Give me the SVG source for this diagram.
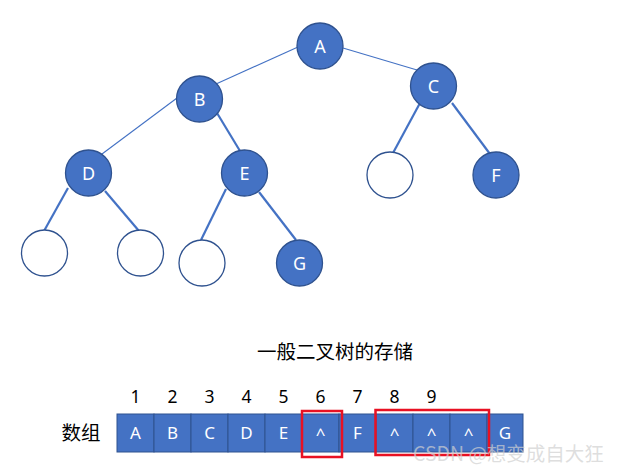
<svg xmlns="http://www.w3.org/2000/svg" width="622" height="470" viewBox="0 0 622 470">
<style>
.n{fill:#4472C4;stroke:#2F528F;stroke-width:1.3}
.e{fill:#ffffff;stroke:#2F528F;stroke-width:1.3}
.t{fill:#ffffff;font-family:"Noto Sans","Liberation Sans",sans-serif;font-size:18px;text-anchor:middle}
.thin{stroke:#4472C4;stroke-width:1.1;fill:none}
.thick{stroke:#4472C4;stroke-width:2.2;fill:none}
.cell{fill:#4472C4;stroke:#2F528F;stroke-width:1}
.ct{fill:#ffffff;font-family:"Noto Sans","Liberation Sans",sans-serif;font-size:17px;text-anchor:middle}
.num{fill:#000;font-family:"Noto Sans","Liberation Sans",sans-serif;font-size:17.5px;text-anchor:middle}
.cjk{fill:#000;font-family:"Noto Sans CJK SC","Noto Sans",sans-serif;font-size:19.5px;text-anchor:middle}
.red{fill:none;stroke:#E81123;stroke-width:2.5}
.wm{font-family:"Noto Sans CJK SC","Noto Sans",sans-serif;font-size:19.5px;fill:#d0d0d0;fill-opacity:0.7}
</style>
<rect width="622" height="470" fill="#ffffff"/>
<g id="connectors">
<line class="thin" x1="298" y1="47" x2="216" y2="84"/>
<line class="thin" x1="343" y1="48" x2="417" y2="70"/>
<line class="thin" x1="177" y1="98" x2="102" y2="154"/>
<line class="thick" x1="217" y1="113" x2="240" y2="151"/>
<line class="thick" x1="420" y1="103" x2="393" y2="153"/>
<line class="thick" x1="452" y1="103" x2="490" y2="154"/>
<line class="thick" x1="68" y1="188" x2="44" y2="231"/>
<line class="thick" x1="105" y1="191" x2="139" y2="231"/>
<line class="thick" x1="226" y1="189" x2="201" y2="240"/>
<line class="thick" x1="259" y1="192" x2="296" y2="240"/>
</g>
<g id="nA"><circle class="n" cx="320" cy="46" r="23"/><text class="t" x="320" y="52.5">A</text></g>
<g id="nB"><circle class="n" cx="199.5" cy="99" r="23"/><text class="t" x="199.5" y="105.5">B</text></g>
<g id="nC"><circle class="n" cx="433.5" cy="86" r="23"/><text class="t" x="433.5" y="92.5">C</text></g>
<g id="nD"><circle class="n" cx="88.5" cy="173" r="23"/><text class="t" x="88.5" y="179.5">D</text></g>
<g id="nE"><circle class="n" cx="244.5" cy="173" r="23"/><text class="t" x="244.5" y="179.5">E</text></g>
<g id="nCL"><circle class="e" cx="390" cy="175" r="23"/></g>
<g id="nF"><circle class="n" cx="496" cy="175" r="23"/><text class="t" x="496" y="181.5">F</text></g>
<g id="nDL"><circle class="e" cx="44.5" cy="253" r="23"/></g>
<g id="nDR"><circle class="e" cx="140.5" cy="253" r="23"/></g>
<g id="nEL"><circle class="e" cx="202" cy="263" r="23"/></g>
<g id="nG"><circle class="n" cx="299.5" cy="263" r="23"/><text class="t" x="299.5" y="269.5">G</text></g>
<g id="title"><text class="cjk" x="335" y="359">一般二叉树的存储</text></g>
<g id="label"><text class="cjk" x="81" y="440">数组</text></g>
<g id="indices">
<text class="num" x="135.5" y="403">1</text>
<text class="num" x="172.5" y="403">2</text>
<text class="num" x="209.5" y="403">3</text>
<text class="num" x="246.5" y="403">4</text>
<text class="num" x="283.5" y="403">5</text>
<text class="num" x="320.5" y="403">6</text>
<text class="num" x="357.5" y="403">7</text>
<text class="num" x="394.5" y="403">8</text>
<text class="num" x="431.5" y="403">9</text>
</g>
<g id="array">
<rect class="cell" x="117" y="414" width="37" height="38"/>
<rect class="cell" x="154" y="414" width="37" height="38"/>
<rect class="cell" x="191" y="414" width="37" height="38"/>
<rect class="cell" x="228" y="414" width="37" height="38"/>
<rect class="cell" x="265" y="414" width="37" height="38"/>
<rect class="cell" x="302" y="414" width="37" height="38"/>
<rect class="cell" x="339" y="414" width="37" height="38"/>
<rect class="cell" x="376" y="414" width="37" height="38"/>
<rect class="cell" x="413" y="414" width="37" height="38"/>
<rect class="cell" x="450" y="414" width="37" height="38"/>
<rect class="cell" x="487" y="414" width="36" height="38"/>
<text class="ct" x="135.5" y="439">A</text>
<text class="ct" x="172.5" y="439">B</text>
<text class="ct" x="209.5" y="439">C</text>
<text class="ct" x="246.5" y="439">D</text>
<text class="ct" x="283.5" y="439">E</text>
<text class="ct" x="320.5" y="440" font-size="19">^</text>
<text class="ct" x="357.5" y="439">F</text>
<text class="ct" x="394.5" y="440" font-size="19">^</text>
<text class="ct" x="431.5" y="440" font-size="19">^</text>
<text class="ct" x="468.5" y="440" font-size="19">^</text>
<text class="ct" x="505" y="439">G</text>
</g>
<g id="highlights">
<rect class="red" x="302" y="411" width="40" height="46"/>
<rect class="red" x="375.5" y="410" width="113.5" height="45"/>
</g>
<g id="watermark"><text class="wm" x="413" y="461">CSDN @想变成自大狂</text></g>
</svg>
